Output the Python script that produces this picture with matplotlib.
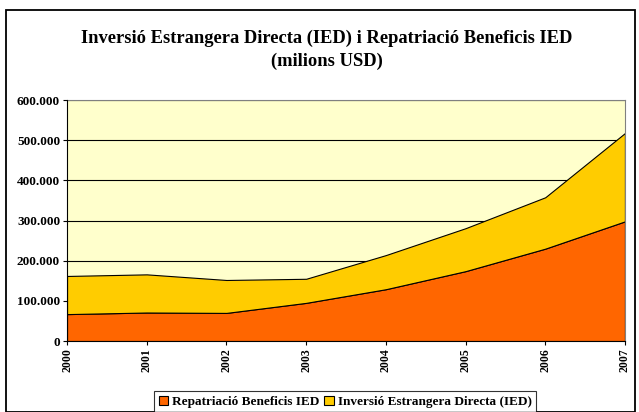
import matplotlib
matplotlib.use("Agg")
import matplotlib.pyplot as plt
from matplotlib.patches import Rectangle

years = ["2000", "2001", "2002", "2003", "2004", "2005", "2006", "2007"]
repatriacio = [67000, 71000, 70000, 95000, 129000, 174000, 230000, 298000]
inversio = [95000, 95000, 82000, 60000, 85000, 107000, 128000, 220000]
yticks = [0, 100000, 200000, 300000, 400000, 500000, 600000]
ytick_labels = ["0", "100.000", "200.000", "300.000", "400.000", "500.000", "600.000"]

plt.rcParams['font.family'] = ['Liberation Serif', 'DejaVu Serif']

fig = plt.figure(figsize=(6.39, 4.12), dpi=100)
fig.patch.set_facecolor("white")
fig.add_artist(Rectangle((0.009, 0.0), 0.985, 0.976, transform=fig.transFigure,
                         fill=False, edgecolor="black", linewidth=1.3))

ax = fig.add_axes([0.1049, 0.1723, 0.8731, 0.5847])
ax.set_facecolor("#FFFFCC")
ax.set_axisbelow(True)
x = list(range(len(years)))
ax.stackplot(x, repatriacio, inversio, colors=["#FF6600", "#FFCC00"],
             edgecolor="black", linewidth=0.8, zorder=2,
             labels=["Repatriació Beneficis IED", "Inversió Estrangera Directa (IED)"])
ax.set_xlim(0, len(years) - 1)
ax.set_ylim(0, 600000)
ax.set_yticks(yticks)
ax.set_yticklabels(ytick_labels, fontsize=9.5, fontweight="bold")
ax.set_xticks(x)
ax.set_xticklabels(years, rotation=90, fontsize=8.5, fontweight="bold")
ax.grid(axis="y", color="black", linewidth=0.8, zorder=0.5)
ax.tick_params(axis="both", length=3, width=0.8, colors="black", pad=2)
for side in ["top", "right"]:
    ax.spines[side].set_color("#808080")
for side in ["left", "bottom"]:
    ax.spines[side].set_color("black")
    ax.spines[side].set_zorder(3)

fig.text(0.512, 0.908, "Inversió Estrangera Directa (IED) i Repatriació Beneficis IED",
         ha="center", va="center", fontsize=13.3, fontweight="bold")
fig.text(0.512, 0.852, "(milions USD)", ha="center", va="center", fontsize=13.3, fontweight="bold")

leg = fig.legend(loc="center", bbox_to_anchor=(0.54, 0.025), ncol=2,
                 prop={"weight": "bold", "size": 9.5}, frameon=True, fancybox=False,
                 handlelength=0.7, handleheight=0.7, handletextpad=0.3, columnspacing=0.4,
                 borderpad=0.35, edgecolor="black")
leg.get_frame().set_linewidth(0.8)
for h in leg.legend_handles:
    h.set_edgecolor("black")
    h.set_linewidth(0.8)

fig.savefig("out.png", dpi=100)
